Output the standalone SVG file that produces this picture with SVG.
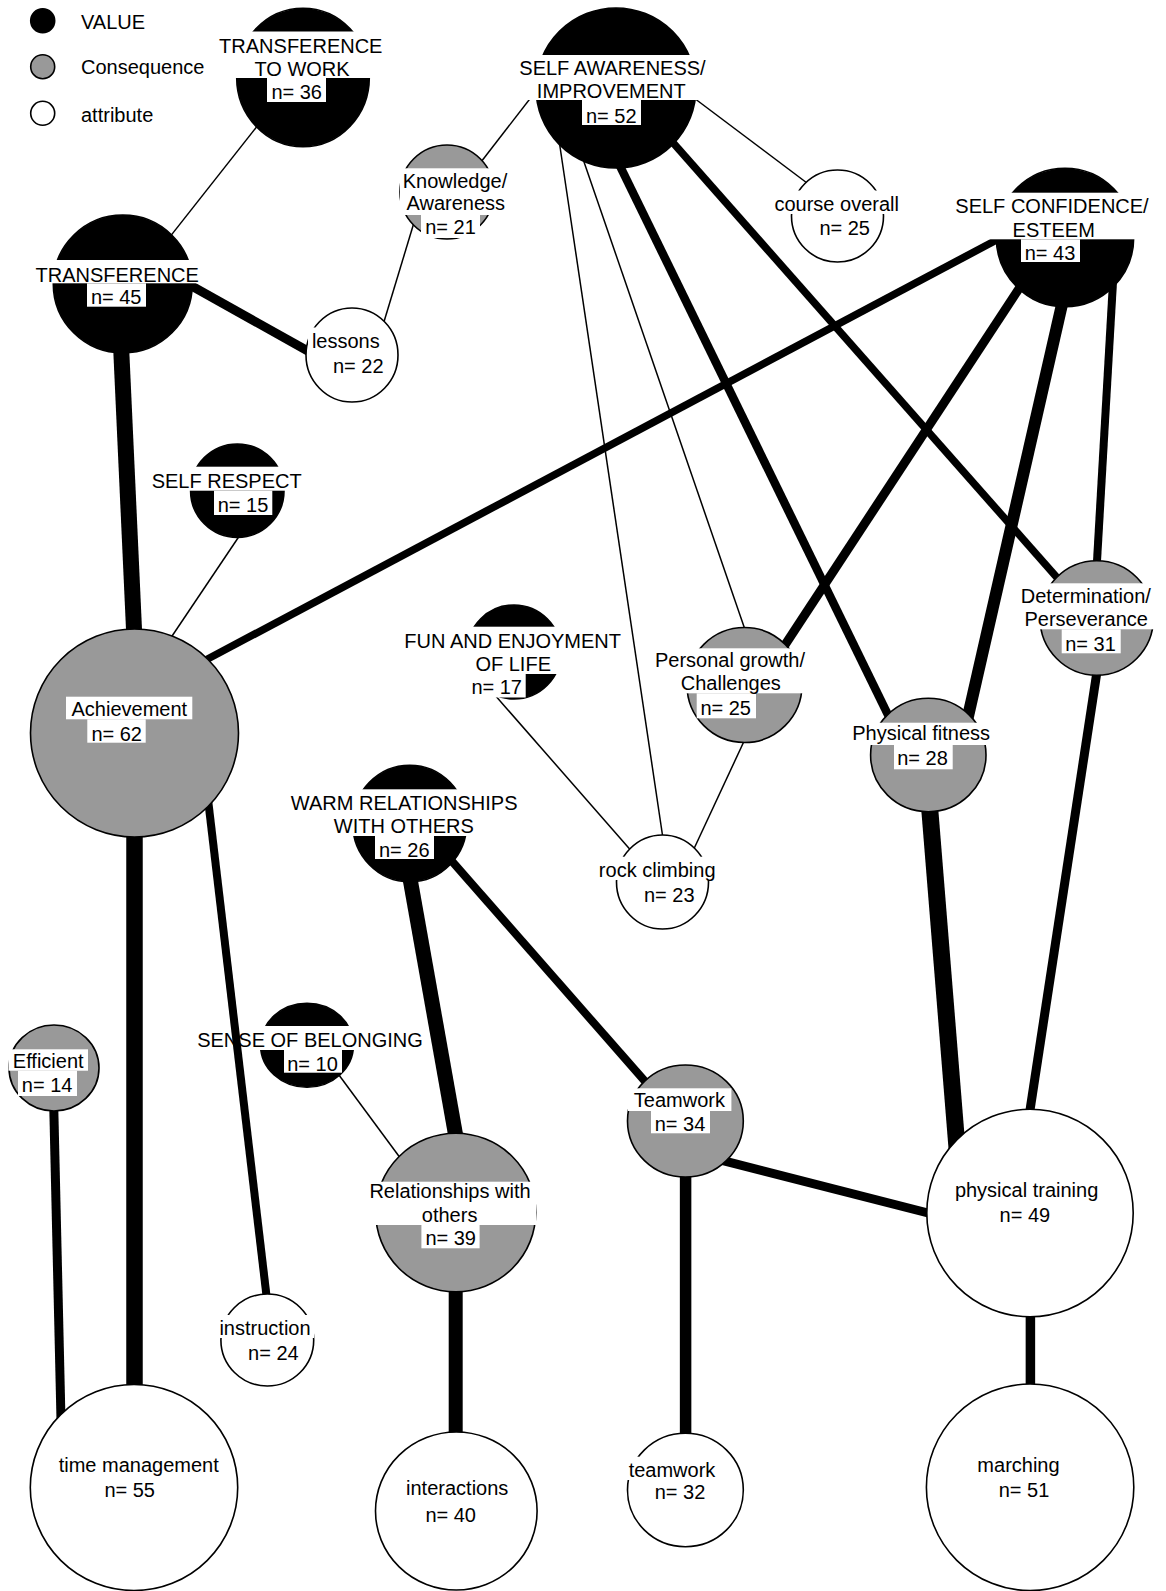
<svg xmlns="http://www.w3.org/2000/svg" width="1166" height="1591" viewBox="0 0 1166 1591">
<style>
  .v{fill:#000;stroke:#000;stroke-width:1.6}
  .c{fill:#999;stroke:#000;stroke-width:1.6}
  .a{fill:#fff;stroke:#000;stroke-width:1.6}
  .bx{fill:#fff}
  text{font-family:"Liberation Sans",Arial,sans-serif;font-size:20px;fill:#000;text-anchor:middle}
  text.lg{text-anchor:start}
  #connectors line{stroke:#000;fill:none}
  .t{stroke-width:1.5}
</style>
<rect width="1166" height="1591" fill="#fff"/>

<g id="connectors">
  <line class="t" x1="261.7" y1="120.4" x2="167.7" y2="239.6"/>
  <line x1="185" y1="282.3" x2="315" y2="355" stroke-width="9"/>
  <line x1="121" y1="345" x2="134.5" y2="640" stroke-width="16"/>
  <line class="t" x1="383" y1="325" x2="415.6" y2="217.3"/>
  <line class="t" x1="481" y1="162" x2="541" y2="84.5"/>
  <line class="t" x1="690" y1="95" x2="811" y2="186"/>
  <line class="t" x1="559" y1="140" x2="663.5" y2="842"/>
  <line class="t" x1="583" y1="159" x2="746.5" y2="634"/>
  <line x1="618" y1="162" x2="891" y2="721" stroke-width="8.5"/>
  <line x1="668" y1="137" x2="1060" y2="581" stroke-width="7.5"/>
  <line x1="202" y1="662" x2="1004" y2="236" stroke-width="7.5"/>
  <line x1="1022" y1="284" x2="781" y2="651" stroke-width="9"/>
  <line x1="1063" y1="300" x2="966.5" y2="723" stroke-width="12"/>
  <line x1="1113" y1="282" x2="1096.5" y2="570" stroke-width="8"/>
  <line class="t" x1="242" y1="532" x2="164" y2="648"/>
  <line class="t" x1="494" y1="694" x2="634" y2="854"/>
  <line class="t" x1="746" y1="737" x2="692" y2="853"/>
  <line x1="134.5" y1="830" x2="134.5" y2="1390" stroke-width="16.5"/>
  <line x1="207.5" y1="795" x2="267" y2="1300" stroke-width="8"/>
  <line x1="408.5" y1="870" x2="456.5" y2="1140" stroke-width="15"/>
  <line x1="450" y1="859" x2="650" y2="1087" stroke-width="8"/>
  <line class="t" x1="336" y1="1071" x2="401" y2="1159"/>
  <line x1="53.6" y1="1100" x2="61" y2="1420" stroke-width="9"/>
  <line x1="455.7" y1="1285" x2="455.7" y2="1440" stroke-width="14"/>
  <line x1="685.6" y1="1170" x2="685.6" y2="1440" stroke-width="11.5"/>
  <line x1="722" y1="1160.3" x2="932" y2="1214" stroke-width="9"/>
  <line x1="929" y1="800" x2="957" y2="1148" stroke-width="17"/>
  <line x1="1100.3" y1="650" x2="1028.8" y2="1118" stroke-width="9"/>
  <line x1="1030.4" y1="1310" x2="1030.4" y2="1390" stroke-width="9.5"/>
</g>

<g id="legend">
  <circle class="v" cx="42.7" cy="20.7" r="12"/>
  <circle class="c" cx="42.7" cy="66.7" r="12"/>
  <circle class="a" cx="42.7" cy="113.3" r="12"/>
  <text class="lg" x="81" y="29.3">VALUE</text>
  <text class="lg" x="81" y="74">Consequence</text>
  <text class="lg" x="81" y="121.7">attribute</text>
</g>

<g id="node-transference-to-work">
  <ellipse class="v" cx="303" cy="77.5" rx="66.3" ry="69.2"/>
  <rect class="bx" x="216" y="31.5" width="170" height="46.5"/>
  <rect class="bx" x="267" y="78" width="59" height="24"/>
  <text x="300.8" y="52.5">TRANSFERENCE</text>
  <text x="302" y="76">TO WORK</text>
  <text x="296.7" y="99">n= 36</text>
</g>

<g id="node-transference">
  <ellipse class="v" cx="122.8" cy="284" rx="69.5" ry="69"/>
  <rect class="bx" x="32" y="260" width="170" height="23.3"/>
  <rect class="bx" x="87" y="283.3" width="59" height="23.4"/>
  <text x="117.2" y="281.7">TRANSFERENCE</text>
  <text x="116.2" y="304">n= 45</text>
</g>

<g id="node-lessons">
  <ellipse class="a" cx="352" cy="355" rx="46" ry="47"/>
  <rect class="bx" x="308" y="327.5" width="75.5" height="23.5"/>
  <rect class="bx" x="329" y="351" width="59" height="24"/>
  <text x="345.8" y="348.3">lessons</text>
  <text x="358.3" y="372.7">n= 22</text>
</g>

<g id="node-knowledge">
  <ellipse class="c" cx="447" cy="192" rx="47" ry="47"/>
  <rect class="bx" x="400" y="168.3" width="110" height="46.7"/>
  <rect class="bx" x="421" y="215" width="59" height="23"/>
  <text x="455" y="188.3">Knowledge/</text>
  <text x="455.8" y="210">Awareness</text>
  <text x="450.5" y="234">n= 21</text>
</g>

<g id="node-self-awareness">
  <ellipse class="v" cx="616" cy="88" rx="80" ry="80"/>
  <rect class="bx" x="514" y="55" width="197" height="45"/>
  <rect class="bx" x="582" y="100" width="59" height="25"/>
  <text x="612.5" y="75">SELF AWARENESS/</text>
  <text x="611.3" y="98.3">IMPROVEMENT</text>
  <text x="611.3" y="122.7">n= 52</text>
</g>

<g id="node-course-overall">
  <ellipse class="a" cx="837.5" cy="216" rx="46" ry="46"/>
  <rect class="bx" x="771" y="190.5" width="131" height="23.5"/>
  <rect class="bx" x="815.5" y="214" width="58.5" height="24"/>
  <text x="836.7" y="211">course overall</text>
  <text x="844.7" y="235">n= 25</text>
</g>

<g id="node-self-confidence">
  <ellipse class="v" cx="1065" cy="237.5" rx="68.7" ry="69.2"/>
  <rect class="bx" x="952" y="192.7" width="200" height="46.6"/>
  <rect class="bx" x="1021" y="239.3" width="59" height="22.7"/>
  <text x="1052" y="213.3">SELF CONFIDENCE/</text>
  <text x="1053.7" y="237.3">ESTEEM</text>
  <text x="1050" y="260">n= 43</text>
</g>

<g id="node-self-respect">
  <ellipse class="v" cx="237.3" cy="490.7" rx="46.7" ry="46.7"/>
  <rect class="bx" x="148" y="466.7" width="157.5" height="24"/>
  <rect class="bx" x="214" y="490.7" width="58.3" height="24.3"/>
  <text x="226.7" y="487.7">SELF RESPECT</text>
  <text x="243" y="511.7">n= 15</text>
</g>

<g id="node-achievement">
  <ellipse class="c" cx="134.5" cy="733" rx="104" ry="104"/>
  <rect class="bx" x="66" y="696.7" width="126.3" height="22.6"/>
  <rect class="bx" x="87.3" y="719.3" width="58.4" height="23.4"/>
  <text x="129.3" y="716">Achievement</text>
  <text x="116.7" y="740.7">n= 62</text>
</g>

<g id="node-fun">
  <ellipse class="v" cx="514" cy="652" rx="47" ry="47"/>
  <rect class="bx" x="400" y="626.7" width="226" height="47.3"/>
  <rect class="bx" x="468" y="674" width="57.7" height="23.5"/>
  <text x="512.7" y="648.3">FUN AND ENJOYMENT</text>
  <text x="513.2" y="671">OF LIFE</text>
  <text x="496.7" y="694">n= 17</text>
</g>

<g id="node-personal-growth">
  <ellipse class="c" cx="744.5" cy="685" rx="57.5" ry="57.5"/>
  <rect class="bx" x="651" y="648.3" width="158" height="45"/>
  <rect class="bx" x="696.7" y="693.3" width="59.3" height="25"/>
  <text x="730" y="667.3">Personal growth/</text>
  <text x="730.8" y="690">Challenges</text>
  <text x="725.7" y="715">n= 25</text>
</g>

<g id="node-physical-fitness">
  <ellipse class="c" cx="928.3" cy="755" rx="57.7" ry="56.7"/>
  <rect class="bx" x="849" y="722.7" width="145" height="22.3"/>
  <rect class="bx" x="894" y="745" width="58.7" height="24.3"/>
  <text x="921.2" y="740">Physical fitness</text>
  <text x="922.5" y="765">n= 28</text>
</g>

<g id="node-determination">
  <ellipse class="c" cx="1096.7" cy="618" rx="56.7" ry="57.2"/>
  <rect class="bx" x="1017" y="583.3" width="138" height="46"/>
  <rect class="bx" x="1061.7" y="629.3" width="59" height="24"/>
  <text x="1085.8" y="603.3">Determination/</text>
  <text x="1086.2" y="625.7">Perseverance</text>
  <text x="1090.5" y="650.7">n= 31</text>
</g>

<g id="node-warm-relationships">
  <ellipse class="v" cx="409.7" cy="823.5" rx="57" ry="58.3"/>
  <rect class="bx" x="286" y="789.3" width="237" height="46.7"/>
  <rect class="bx" x="375" y="836" width="59" height="23"/>
  <text x="404.2" y="810">WARM RELATIONSHIPS</text>
  <text x="403.8" y="833.3">WITH OTHERS</text>
  <text x="404.3" y="856.7">n= 26</text>
</g>

<g id="node-rock-climbing">
  <ellipse class="a" cx="662.5" cy="882" rx="46" ry="47"/>
  <rect class="bx" x="596" y="856.7" width="123" height="23.3"/>
  <rect class="bx" x="640" y="880" width="58.5" height="24"/>
  <text x="657.2" y="876.7">rock climbing</text>
  <text x="669.3" y="901.7">n= 23</text>
</g>

<g id="node-sense-of-belonging">
  <ellipse class="v" cx="307" cy="1045.3" rx="46.4" ry="42"/>
  <rect class="bx" x="245" y="1026" width="182" height="24"/>
  <rect class="bx" x="284" y="1050" width="58" height="22.7"/>
  <text x="310" y="1046.7">SENSE OF BELONGING</text>
  <text x="312.5" y="1070.7">n= 10</text>
</g>

<g id="node-efficient">
  <ellipse class="c" cx="54" cy="1068" rx="45" ry="43"/>
  <rect class="bx" x="8.5" y="1049.3" width="79.5" height="21.4"/>
  <rect class="bx" x="18" y="1070.7" width="59" height="25.3"/>
  <text x="48.2" y="1067.7">Efficient</text>
  <text x="47.1" y="1091.7">n= 14</text>
</g>

<g id="node-relationships">
  <ellipse class="c" cx="455.7" cy="1212.5" rx="80" ry="79.2"/>
  <rect class="bx" x="368" y="1181.7" width="168" height="43.3"/>
  <rect class="bx" x="421.4" y="1225" width="58.2" height="23.3"/>
  <text x="450" y="1198.3">Relationships with</text>
  <text x="449.6" y="1221.7">others</text>
  <text x="450.7" y="1245">n= 39</text>
</g>

<g id="node-teamwork-consequence">
  <ellipse class="c" cx="685.4" cy="1121" rx="57.9" ry="56"/>
  <rect class="bx" x="628" y="1088.3" width="103.4" height="22.7"/>
  <rect class="bx" x="651" y="1111" width="59" height="22.3"/>
  <text x="679.4" y="1106.7">Teamwork</text>
  <text x="680" y="1131">n= 34</text>
</g>

<g id="node-physical-training">
  <ellipse class="a" cx="1030" cy="1213" rx="103.2" ry="103.7"/>
  <rect class="bx" x="951" y="1176" width="151" height="23.5"/>
  <rect class="bx" x="995.6" y="1199.5" width="58.6" height="25"/>
  <text x="1026.6" y="1196.7">physical training</text>
  <text x="1024.9" y="1221.7">n= 49</text>
</g>

<g id="node-instruction">
  <ellipse class="a" cx="267.3" cy="1340" rx="46.4" ry="46"/>
  <rect class="bx" x="216" y="1315" width="98" height="23"/>
  <rect class="bx" x="244" y="1338" width="59" height="24.5"/>
  <text x="265" y="1335">instruction</text>
  <text x="273.4" y="1360">n= 24</text>
</g>

<g id="node-time-management">
  <ellipse class="a" cx="134" cy="1487.5" rx="103.7" ry="103"/>
  <rect class="bx" x="55" y="1451" width="167.5" height="23.5"/>
  <rect class="bx" x="100" y="1474.5" width="59.4" height="25"/>
  <text x="138.7" y="1471.7">time management</text>
  <text x="129.7" y="1496.7">n= 55</text>
</g>

<g id="node-interactions">
  <ellipse class="a" cx="456.3" cy="1511" rx="80.8" ry="79"/>
  <rect class="bx" x="402" y="1474.5" width="110.5" height="23.5"/>
  <rect class="bx" x="421.4" y="1498" width="58.6" height="26"/>
  <text x="457.2" y="1495">interactions</text>
  <text x="450.7" y="1521.7">n= 40</text>
</g>

<g id="node-teamwork-attribute">
  <ellipse class="a" cx="685.4" cy="1490" rx="57.9" ry="56.7"/>
  <rect class="bx" x="625" y="1456.7" width="94" height="23.3"/>
  <rect class="bx" x="650.7" y="1480" width="58.6" height="22"/>
  <text x="672" y="1476.7">teamwork</text>
  <text x="680" y="1499.3">n= 32</text>
</g>

<g id="node-marching">
  <ellipse class="a" cx="1030.1" cy="1487.3" rx="103.7" ry="103.3"/>
  <rect class="bx" x="973" y="1451" width="91" height="23.5"/>
  <rect class="bx" x="994.7" y="1474.5" width="58.6" height="25"/>
  <text x="1018.5" y="1471.7">marching</text>
  <text x="1024" y="1496.7">n= 51</text>
</g>
</svg>
